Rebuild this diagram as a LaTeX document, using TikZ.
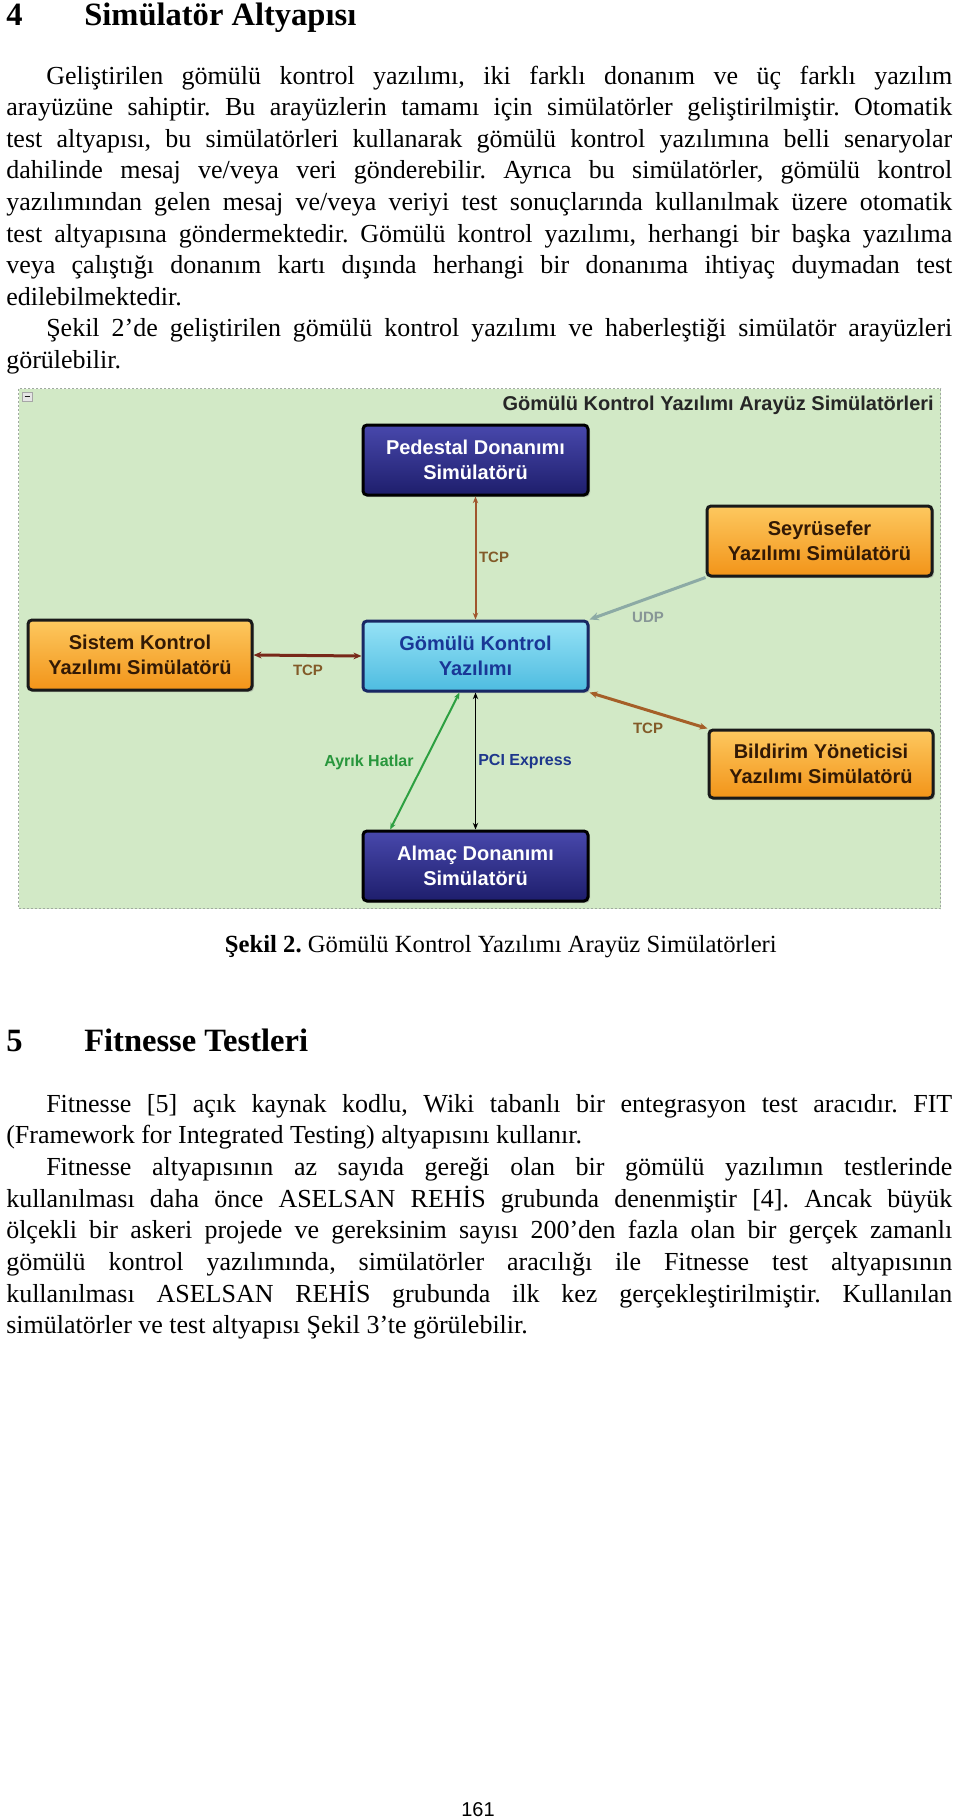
\documentclass[tikz,border=0pt]{standalone}
\usepackage{fontspec}
\usepackage{graphicx}
\setmainfont{Liberation Serif}
\newfontfamily\dsf{Liberation Sans}
\usetikzlibrary{arrows.meta,shadows}
\newdimen\pxu \pxu=0.75pt
\newlength\jlen
\newcommand\jline[2]{\settowidth\jlen{#2}\ifdim\jlen>#1\relax\resizebox{#1}{\height}{#2}\else\makebox[#1][s]{#2}\fi}
\definecolor{navyT}{RGB}{72,72,172}
\definecolor{navyB}{RGB}{30,30,108}
\definecolor{orT}{RGB}{253,200,95}
\definecolor{orB}{RGB}{242,148,25}
\definecolor{orTx}{RGB}{50,25,5}
\definecolor{cyT}{RGB}{150,226,246}
\definecolor{cyB}{RGB}{78,188,224}
\definecolor{cyD}{RGB}{25,40,100}
\definecolor{cyTx}{RGB}{25,55,150}
\definecolor{frFill}{RGB}{210,233,198}
\definecolor{frDraw}{RGB}{160,170,160}
\definecolor{brA}{RGB}{160,85,45}
\definecolor{brRed}{RGB}{120,40,25}
\definecolor{udpC}{RGB}{140,170,165}
\definecolor{brB}{RGB}{165,95,40}
\definecolor{grC}{RGB}{45,160,65}
\definecolor{tcpTx}{RGB}{130,90,40}
\definecolor{udpTx}{RGB}{135,150,150}
\definecolor{pciTx}{RGB}{30,55,140}
\definecolor{ayrTx}{RGB}{40,150,60}
\tikzset{
  body/.style={anchor=base west, inner sep=0pt, font=\fontsize{19.5}{23.7}\selectfont},
  head/.style={anchor=base west, inner sep=0pt, font=\fontsize{24.4}{28}\selectfont\bfseries},
  box/.style={rounded corners=3pt, line width=2.25pt, minimum width=224\pxu, minimum height=70\pxu,
    align=center, font=\dsf\bfseries\fontsize{15}{18.75}\selectfont, inner sep=0pt,
    drop shadow={shadow xshift=1.5pt,shadow yshift=-1.5pt,opacity=0.35}},
  navybox/.style={box, draw=black, top color=navyT, bottom color=navyB, text=white},
  orangebox/.style={box, draw=black!90, top color=orT, bottom color=orB, text=orTx},
  cyanbox/.style={box, draw=cyD, top color=cyT, bottom color=cyB, text=cyTx},
  lab/.style={font=\dsf\bfseries\fontsize{11.25}{13}\selectfont, inner sep=0pt},
  lab2/.style={font=\dsf\bfseries\fontsize{12}{14}\selectfont, inner sep=0pt},
  tipA/.style={{Stealth[length=6pt,width=5pt]}-{Stealth[length=6pt,width=5pt]}},
  tipB/.style={{Stealth[length=5pt,width=4pt]}-{Stealth[length=5pt,width=4pt]}},
}
\begin{document}
\frenchspacing
\begin{tikzpicture}[x=0.75pt,y=-0.75pt]
\useasboundingbox[fill=white] (0,0) rectangle (960,1820);

% Section 4 heading
\node[head] (h4n) at (6,25) {4};
\node[head] (h4t) at (84,25) {Simülatör Altyapısı};

% Paragraphs
\node[body] (t1) at (46,84) {\jline{679.5pt}{Geliştirilen gömülü kontrol yazılımı, iki farklı donanım ve üç farklı yazılım}};
\node[body] (t2) at (6,115.6) {\jline{709.5pt}{arayüzüne sahiptir. Bu arayüzlerin tamamı için simülatörler geliştirilmiştir. Otomatik}};
\node[body] (t3) at (6,147.2) {\jline{709.5pt}{test altyapısı, bu simülatörleri kullanarak gömülü kontrol yazılımına belli senaryolar}};
\node[body] (t4) at (6,178.8) {\jline{709.5pt}{dahilinde mesaj ve/veya veri gönderebilir. Ayrıca bu simülatörler, gömülü kontrol}};
\node[body] (t5) at (6,210.4) {\jline{709.5pt}{yazılımından gelen mesaj ve/veya veriyi test sonuçlarında kullanılmak üzere otomatik}};
\node[body] (t6) at (6,242) {\jline{709.5pt}{test altyapısına göndermektedir. Gömülü kontrol yazılımı, herhangi bir başka yazılıma}};
\node[body] (t7) at (6,273.6) {\jline{709.5pt}{veya çalıştığı donanım kartı dışında herhangi bir donanıma ihtiyaç duymadan test}};
\node[body] (t8) at (6,305.2) {edilebilmektedir.};
\node[body] (t9) at (46,336.8) {\jline{679.5pt}{Şekil 2’de geliştirilen gömülü kontrol yazılımı ve haberleştiği simülatör arayüzleri}};
\node[body] (t10) at (6,368.4) {görülebilir.};

% Figure frame
\node[draw=frDraw, fill=frFill, line width=0.75pt, dash pattern=on 1.5pt off 1.5pt,
  minimum width=922\pxu, minimum height=520\pxu, inner sep=0pt, anchor=north west] (frame) at (18,388) {};
\node[draw=gray!70, fill=gray!20, line width=0.4pt, minimum width=10\pxu, minimum height=9\pxu,
  inner sep=0pt, anchor=north west] (btn) at (22,392) {};
\draw[line width=1pt, gray!20!black] ([xshift=-2pt]btn.center) -- ([xshift=2pt]btn.center);

\node[font=\dsf\bfseries\fontsize{15}{18}\selectfont, text=black!85, anchor=east, inner sep=0pt] (title) at (934,405)
  {Gömülü Kontrol Yazılımı Arayüz Simülatörleri};

% Boxes
\node[navybox, minimum width=225\pxu] (ped) at (475.5,460) {Pedestal Donanımı\\Simülatörü};
\node[orangebox, minimum width=225\pxu] (sey) at (819.5,541) {Seyrüsefer\\Yazılımı Simülatörü};
\node[orangebox] (sis) at (140,655) {Sistem Kontrol\\Yazılımı Simülatörü};
\node[cyanbox, minimum width=225\pxu] (gkc) at (475.5,656) {Gömülü Kontrol\\Yazılımı};
\node[orangebox, minimum height=68\pxu] (bil) at (821,764) {Bildirim Yöneticisi\\Yazılımı Simülatörü};
\node[navybox, minimum width=225\pxu] (alm) at (475.5,866) {Almaç Donanımı\\Simülatörü};

% Connectors
\draw[tipB, brA, line width=1.5pt] (ped.south) -- (gkc.north);
\draw[tipA, brRed, line width=2.25pt] (sis.east) -- (gkc.west);
\draw[-{Stealth[length=7pt,width=6pt]}, udpC, line width=2.25pt] (sey.south west) -- (gkc.north east);
\draw[tipA, brB, line width=2.25pt] (gkc.south east) -- (bil.north west);
\draw[tipB, grC, line width=1.5pt] ([xshift=-12pt]gkc.south) -- ([xshift=-64pt]alm.north);
\draw[tipB, black, line width=1.1pt] (gkc.south) -- (alm.north);

% Labels
\node[lab, text=tcpTx] (l1) at (494,557) {TCP};
\node[lab, text=tcpTx] (l2) at (308,670) {TCP};
\node[lab, text=udpTx] (l3) at (648,617) {UDP};
\node[lab, text=tcpTx] (l4) at (648,728) {TCP};
\node[lab2, text=ayrTx] (l5) at (369,762) {Ayrık Hatlar};
\node[lab2, text=pciTx] (l6) at (525,762) {PCI Express};

% Caption
\node[anchor=base east, inner sep=0pt, font=\fontsize{18.5}{22}\selectfont] (cap) at (777,952)
  {\textbf{Şekil 2.} Gömülü Kontrol Yazılımı Arayüz Simülatörleri};

% Section 5
\node[head] (h5n) at (6,1051) {5};
\node[head] (h5t) at (84,1051) {Fitnesse Testleri};
\node[body] (s1) at (46,1112) {\jline{679.5pt}{Fitnesse [5] açık kaynak kodlu, Wiki tabanlı bir entegrasyon test aracıdır. FIT}};
\node[body] (s2) at (6,1143.7) {(Framework for Integrated Testing) altyapısını kullanır.};
\node[body] (s3) at (46,1175.4) {\jline{679.5pt}{Fitnesse altyapısının az sayıda gereği olan bir gömülü yazılımın testlerinde}};
\node[body] (s4) at (6,1207.1) {\jline{709.5pt}{kullanılması daha önce ASELSAN REHİS grubunda denenmiştir [4]. Ancak büyük}};
\node[body] (s5) at (6,1238.8) {\jline{709.5pt}{ölçekli bir askeri projede ve gereksinim sayısı 200’den fazla olan bir gerçek zamanlı}};
\node[body] (s6) at (6,1270.5) {\jline{709.5pt}{gömülü kontrol yazılımında, simülatörler aracılığı ile Fitnesse test altyapısının}};
\node[body] (s7) at (6,1302.2) {\jline{709.5pt}{kullanılması ASELSAN REHİS grubunda ilk kez gerçekleştirilmiştir. Kullanılan}};
\node[body] (s8) at (6,1333.9) {simülatörler ve test altyapısı Şekil 3’te görülebilir.};

% Page number
\node[anchor=base, inner sep=0pt, font=\dsf\fontsize{15}{18}\selectfont] (pg) at (478,1816) {161};
\end{tikzpicture}
\end{document}
